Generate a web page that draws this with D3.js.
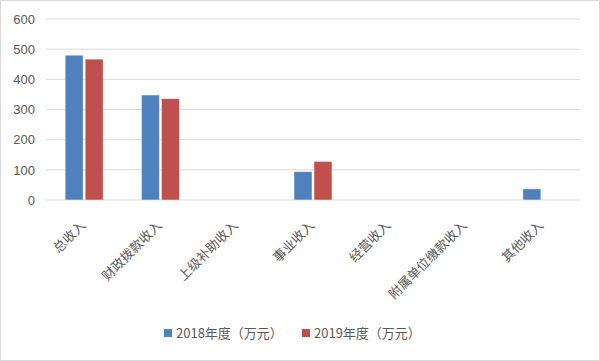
<!DOCTYPE html>
<meta charset="utf-8">
<style>
    body { margin: 0; background: #fff; }
    text { font-family: "Noto Sans CJK SC", "Noto Sans", sans-serif; fill: #595959; }
</style>
<body>
<script src="https://d3js.org/d3.v7.min.js"></script>
<script>
    var categories = ["总收入", "财政拨款收入", "上级补助收入", "事业收入", "经营收入", "附属单位缴款收入", "其他收入"];
    var seriesNames = ["2018年度（万元）", "2019年度（万元）"];
    var values2018 = [480, 348, 0, 94, 0, 0, 37];
    var values2019 = [467, 336, 0, 128, 0, 0, 0];
    var yTicks = [0, 100, 200, 300, 400, 500, 600];
    var colors = ["#4f81bd", "#c0504d"];

    var W = 600, H = 361;
    var margin = { top: 19, right: 20, bottom: 161, left: 46 },
        width = W - margin.left - margin.right,
        height = H - margin.top - margin.bottom;

    var svg = d3.select("body").append("svg")
        .attr("width", W).attr("height", H);

    // outer frame
    svg.append("rect")
        .attr("x", 0.5).attr("y", 0.5)
        .attr("width", W - 1).attr("height", H - 1)
        .attr("fill", "#fff").attr("stroke", "#d9d9d9");

    var g = svg.append("g")
        .attr("transform", "translate(" + margin.left + "," + margin.top + ")");

    var x = d3.scaleBand().domain(categories).range([0, width]);
    var x1 = d3.scaleBand().domain(seriesNames).range([0, 38]).paddingInner(0.1);
    var y = d3.scaleLinear().domain([0, 600]).range([height, 0]);

    // grid lines
    g.selectAll(".grid").data(yTicks).enter().append("line")
        .attr("x1", 0).attr("x2", width)
        .attr("y1", function (d) { return y(d); })
        .attr("y2", function (d) { return y(d); })
        .attr("stroke", "#d9d9d9").attr("stroke-width", 1);

    // y labels
    var yAxis = g.append("g")
        .call(d3.axisLeft(y).tickValues(yTicks).tickSize(0).tickPadding(11));
    yAxis.select(".domain").remove();
    yAxis.selectAll("text")
        .style("font-family", "'Liberation Sans', sans-serif")
        .style("font-size", "13px")
        .attr("fill", "#595959");

    // bars
    var data = categories.map(function (c, i) {
        return { cat: c, vals: [values2018[i], values2019[i]] };
    });
    var groups = g.selectAll(".cat").data(data).enter().append("g")
        .attr("transform", function (d) {
            return "translate(" + (x(d.cat) + x.bandwidth() / 2 - 19) + ",0)";
        });
    groups.selectAll("rect")
        .data(function (d) { return d.vals.map(function (v, i) { return { s: seriesNames[i], v: v, i: i }; }); })
        .enter().filter(function (d) { return d.v > 0; }).append("rect")
        .attr("x", function (d) { return x1(d.s); })
        .attr("width", x1.bandwidth())
        .attr("y", function (d) { return y(d.v); })
        .attr("height", function (d) { return y(0) - y(d.v); })
        .attr("fill", function (d) { return colors[d.i]; })
        .attr("stroke", "#fff").attr("stroke-opacity", 0.6).attr("stroke-width", 0.8);

    // x labels
    g.selectAll(".xlab").data(categories).enter().append("text")
        .attr("transform", function (d) {
            return "translate(" + (x(d) + x.bandwidth() / 2 - 1) + "," + (height + 23) + ") rotate(-45)";
        })
        .attr("text-anchor", "end")
        .attr("dy", "0.35em")
        .style("font-size", "13px")
        .text(function (d) { return d; });

    // legend
    var legend = svg.append("g").attr("transform", "translate(0,333)");
    var lx = [164, 302];
    seriesNames.forEach(function (s, i) {
        legend.append("rect")
            .attr("x", lx[i]).attr("y", -4)
            .attr("width", 8).attr("height", 8)
            .attr("fill", colors[i]);
        legend.append("text")
            .attr("x", lx[i] + 12).attr("y", 0)
            .attr("dy", "0.35em")
            .style("font-size", "13px")
            .text(s);
    });
</script>
</body>
